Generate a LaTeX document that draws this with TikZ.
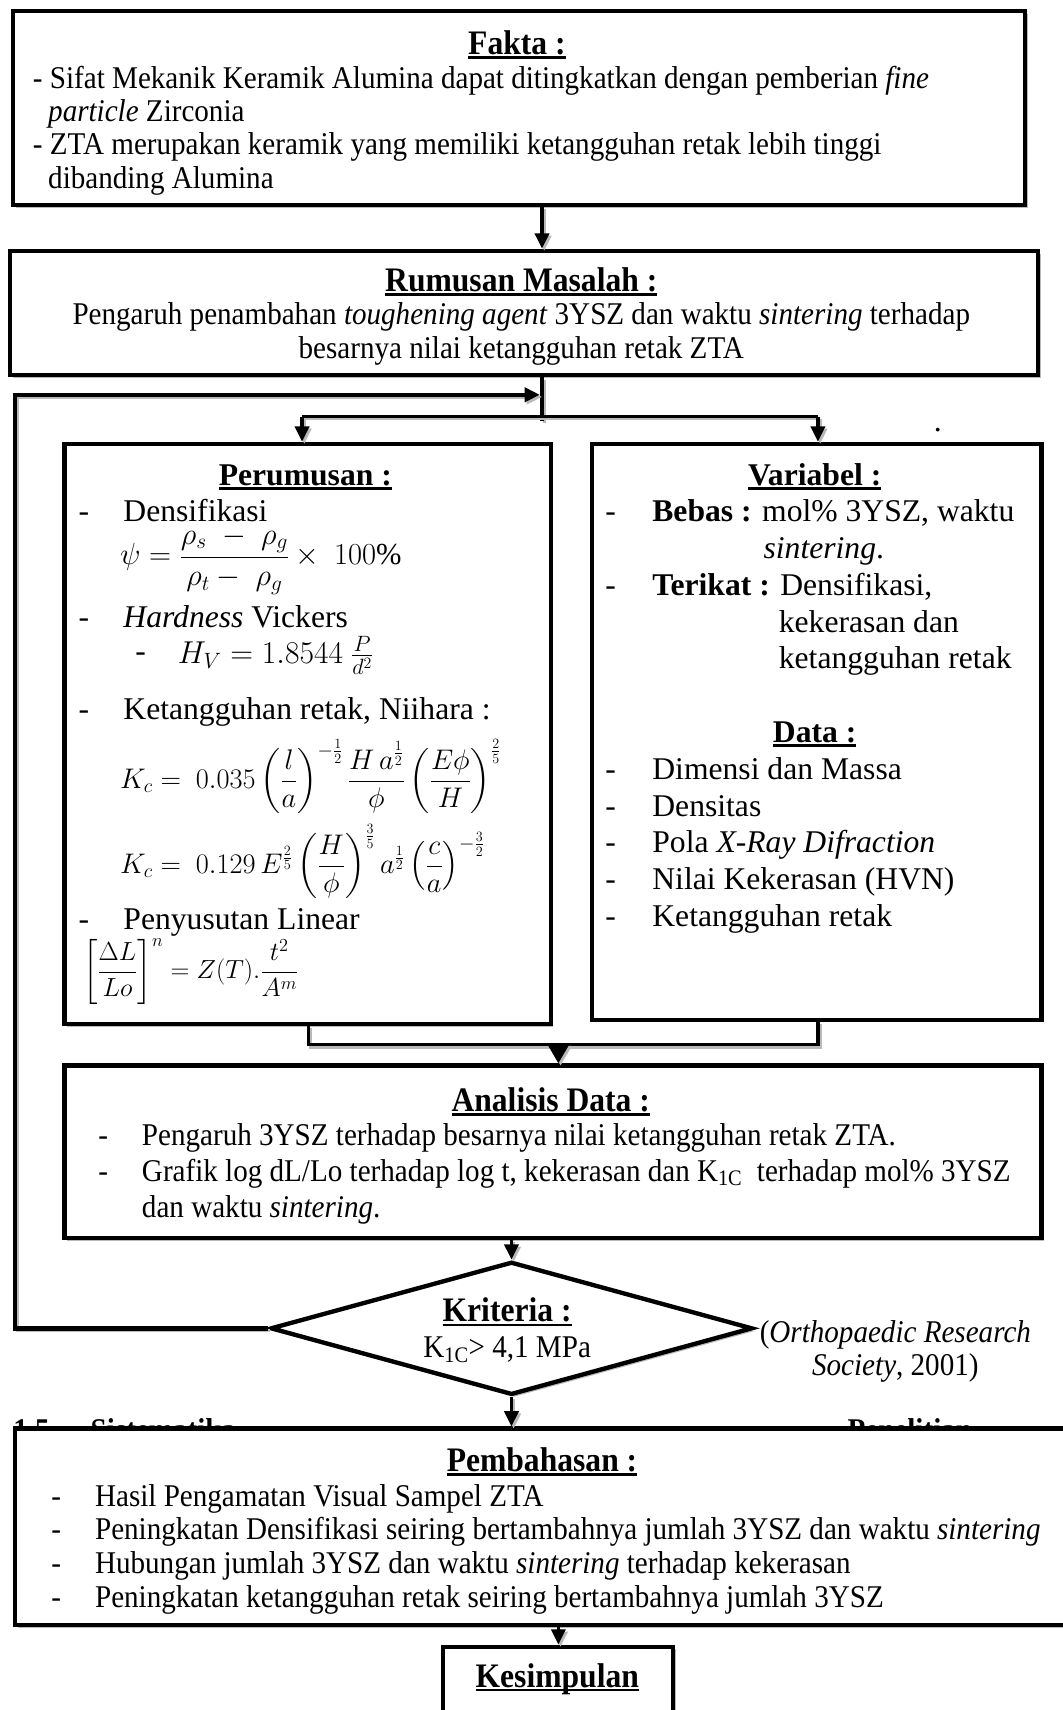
\RequirePackage{fix-cm}
\documentclass[tikz,border=0pt]{standalone}
\usepackage{amsmath}
\usepackage{fontspec}
\setmainfont{Liberation Serif}
\newfontfamily\nar[FakeStretch=0.92]{Liberation Serif}
\usetikzlibrary{arrows.meta,shadows,shapes.geometric}
\newcommand{\ulh}[1]{\sbox0{#1}\makebox[0pt][l]{\usebox0}\rule[-4pt]{\wd0}{2.4pt}}
\tikzset{
 box/.style={draw, line width=4pt, fill=white, inner sep=0pt, anchor=north west,
   drop shadow={shadow xshift=2.5pt, shadow yshift=-2.5pt, fill=gray!55, opacity=1}},
 ln/.style={line width=3pt, preaction={draw=gray!55, line width=3pt, transform canvas={shift={(2pt,-2pt)}}}},
 arr/.style={ln, -{Triangle[width=13pt,length=14pt]}},
 txt/.style={inner sep=0pt, anchor=base west, font=\fontsize{29}{33.75}\selectfont},
 ttl/.style={inner sep=0pt, anchor=base, font=\bfseries\fontsize{29}{33}\selectfont},
 ntxt/.style={inner sep=0pt, anchor=base west, font=\nar\fontsize{29}{30.5}\selectfont},
 nctr/.style={inner sep=0pt, anchor=base, font=\nar\fontsize{29}{30.5}\selectfont},
 nttl/.style={inner sep=0pt, anchor=base, font=\nar\bfseries\fontsize{31.5}{32}\selectfont},
 hid/.style={inner sep=0pt, anchor=base west, font=\nar\bfseries\fontsize{29}{30}\selectfont},
 eq/.style={inner sep=0pt, anchor=west, font=\fontsize{26}{30}\selectfont},
}
\begin{document}
\begin{tikzpicture}[x=1pt,y=-1pt]
\useasboundingbox (0,0) rectangle (974,1568);
\fill[white] (0,0) rectangle (974,1568);

% heading fragments hidden behind the Pembahasan box
\node[hid] (h15) at (12,1321) {1.5};
\node[hid] (hsis) at (83,1321) {Sistematika};
\node[hid] (hpen) at (777,1321) {Penelitian};

% boxes
\node[box, minimum width=928pt, minimum height=178pt] (fakta) at (10,8) {};
\node[box, minimum width=943pt, minimum height=114pt] (rumusan) at (7,228) {};
\node[box, minimum width=446pt, minimum height=532pt] (perumusan) at (57,405) {};
\node[box, minimum width=412pt, minimum height=528pt] (variabel) at (541,405) {};
\node[box, minimum width=896pt, minimum height=158pt] (analisis) at (57,975) {};
\node[diamond, draw, line width=4pt, fill=white, inner sep=0pt, minimum width=442pt, minimum height=122pt,
  drop shadow={shadow xshift=2.5pt, shadow yshift=-2.5pt, fill=gray!55, opacity=1}] (krit) at (469,1218) {};
\node[box, minimum width=975pt, minimum height=180pt] (pembahasan) at (12,1308) {};
\node[box, minimum width=211pt, minimum height=80pt] (kesimpulan) at (404,1508) {};

% connectors
\coordinate (jl) at (277,382);
\coordinate (jr) at (750,382);
\coordinate (fb1) at (14,1218);
\coordinate (fb2) at (14,362);
\coordinate (fb3) at (495,362);
\coordinate (ml) at (283,958);
\coordinate (mr) at (750,958);
\coordinate (mm) at (512,958);

\draw[arr] (497,0 |- fakta.south) -- (497,0 |- rumusan.north);
\draw[ln] (497,0 |- rumusan.south) -- (497,386);
\draw[ln] (jl) -- (jr);
\draw[arr] (jl) -- (277,0 |- perumusan.north);
\draw[arr] (jr) -- (750,0 |- variabel.north);
\draw[arr, line width=4pt] (krit.west) -- (fb1) -- (fb2) -- (fb3);
\draw[ln] (283,0 |- perumusan.south) -- (ml) -- (mr) -- (750,0 |- variabel.south);
\draw[ln, -{Triangle[width=20pt,length=18pt]}] (mm) -- (512,0 |- analisis.north);
\draw[arr] (469,0 |- analisis.south) -- (krit.north);
\draw[arr] (krit.south) -- (469,0 |- pembahasan.north);
\draw[arr] (512,0 |- pembahasan.south) -- (512,0 |- kesimpulan.north);

% Fakta
\node[nttl] (tfakta) at (474,50) {\ulh{Fakta :}};
\node[ntxt] (f1) at (30,81) {- Sifat Mekanik Keramik Alumina dapat ditingkatkan dengan pemberian \textit{fine}};
\node[ntxt] (f2) at (44,111) {\textit{particle} Zirconia};
\node[ntxt] (f3) at (30,142) {- ZTA merupakan keramik yang memiliki ketangguhan retak lebih tinggi};
\node[ntxt] (f4) at (44,173) {dibanding Alumina};

% Rumusan
\node[nttl] (trum) at (478,267) {\ulh{Rumusan Masalah :}};
\node[nctr] (r1) at (478,298) {Pengaruh penambahan \textit{toughening agent} 3YSZ dan waktu \textit{sintering} terhadap};
\node[nctr] (r2) at (478,329) {besarnya nilai ketangguhan retak ZTA};

\node[txt] (dot) at (856,396) {.};

% Perumusan
\node[ttl] (tper) at (280,445) {\ulh{Perumusan :}};
\node[txt] (pd1) at (72,478) {-};
\node[txt] (p1) at (113,478) {Densifikasi};
\node[eq, font=\fontsize{28}{30}\selectfont] (e1) at (110,514) {$\psi = \dfrac{\rho_s \;-\; \rho_g}{\rho_t - \;\rho_g}\times\ 100\%$};
\node[txt] (pd2) at (72,575) {-};
\node[txt] (p2) at (113,575) {\textit{Hardness} Vickers};
\node[txt] (pd3) at (124,607) {-};
\node[eq, font=\fontsize{29}{30}\selectfont] (e2) at (163,601) {$H_V = 1.8544\ \tfrac{P}{d^2}$};
\node[txt] (pd4) at (72,660) {-};
\node[txt] (p3) at (113,660) {Ketangguhan retak, Niihara :};
\node[eq] (e3) at (110,712) {$K_c =\ 0.035\left(\dfrac{l}{a}\right)^{-\frac{1}{2}}\dfrac{H\,a^{\frac12}}{\phi}\left(\dfrac{E\phi}{H}\right)^{\frac25}$};
\node[eq] (e4) at (110,790) {$K_c =\ 0.129\,E^{\frac25}\left(\dfrac{H}{\phi}\right)^{\frac35}a^{\frac12}\left(\dfrac{c}{a}\right)^{-\frac32}$};
\node[txt] (pd5) at (72,852) {-};
\node[txt] (p4) at (113,852) {Penyusutan Linear};
\node[eq, font=\fontsize{24}{28}\selectfont] (e5) at (76,891) {$\left[\dfrac{\Delta L}{Lo}\right]^n = Z(T).\dfrac{t^2}{A^m}$};

% Variabel
\node[ttl] (tvar) at (747,445) {\ulh{Variabel :}};
\node[txt] (vd1) at (555,478) {-};
\node[txt] (v1) at (598,478) {\textbf{Bebas :} mol\% 3YSZ, waktu};
\node[txt] (v2) at (700,512) {\textit{sintering}.};
\node[txt] (vd2) at (555,546) {-};
\node[txt] (v3) at (598,546) {\textbf{Terikat :} Densifikasi,};
\node[txt] (v4) at (714,580) {kekerasan dan};
\node[txt] (v5) at (714,613) {ketangguhan retak};
\node[ttl] (tdata) at (747,681) {\ulh{Data :}};
\node[txt] (dd1) at (555,715) {-};
\node[txt] (d1) at (598,715) {Dimensi dan Massa};
\node[txt] (dd2) at (555,749) {-};
\node[txt] (d2) at (598,749) {Densitas};
\node[txt] (dd3) at (555,782) {-};
\node[txt] (d3) at (598,782) {Pola \textit{X-Ray Difraction}};
\node[txt] (dd4) at (555,816) {-};
\node[txt] (d4) at (598,816) {Nilai Kekerasan (HVN)};
\node[txt] (dd5) at (555,850) {-};
\node[txt] (d5) at (598,850) {Ketangguhan retak};

% Analisis
\node[nttl] (tana) at (505,1019) {\ulh{Analisis Data :}};
\node[ntxt] (ad1) at (90,1050) {-};
\node[ntxt] (a1) at (130,1050) {Pengaruh 3YSZ terhadap besarnya nilai ketangguhan retak ZTA.};
\node[ntxt] (ad2) at (90,1083) {-};
\node[ntxt] (a2) at (130,1083) {Grafik log dL/Lo terhadap log t, kekerasan dan K\textsubscript{1C}\ \ terhadap mol\% 3YSZ};
\node[ntxt] (a3) at (130,1116) {dan waktu \textit{sintering}.};

% Kriteria
\node[nttl] (tkri) at (465,1212) {\ulh{Kriteria :}};
\node[nctr] (k1) at (465,1245) {K\textsubscript{1C}> 4,1 MPa};
\node[nctr] (c1) at (821,1231) {(\textit{Orthopaedic Research}};
\node[nctr] (c2) at (821,1261) {\textit{Society}, 2001)};

% Pembahasan
\node[nttl] (tpem) at (497,1349) {\ulh{Pembahasan :}};
\node[ntxt] (bd1) at (47,1381) {-};
\node[ntxt] (b1) at (87,1381) {Hasil Pengamatan Visual Sampel ZTA};
\node[ntxt] (bd2) at (47,1412) {-};
\node[ntxt] (b2) at (87,1412) {Peningkatan Densifikasi seiring bertambahnya jumlah 3YSZ dan waktu \textit{sintering}};
\node[ntxt] (bd3) at (47,1443) {-};
\node[ntxt] (b3) at (87,1443) {Hubungan jumlah 3YSZ dan waktu \textit{sintering} terhadap kekerasan};
\node[ntxt] (bd4) at (47,1474) {-};
\node[ntxt] (b4) at (87,1474) {Peningkatan ketangguhan retak seiring bertambahnya jumlah 3YSZ};

% Kesimpulan
\node[nttl] (tkes) at (511,1547) {\ulh{Kesimpulan}};
\end{tikzpicture}
\end{document}
